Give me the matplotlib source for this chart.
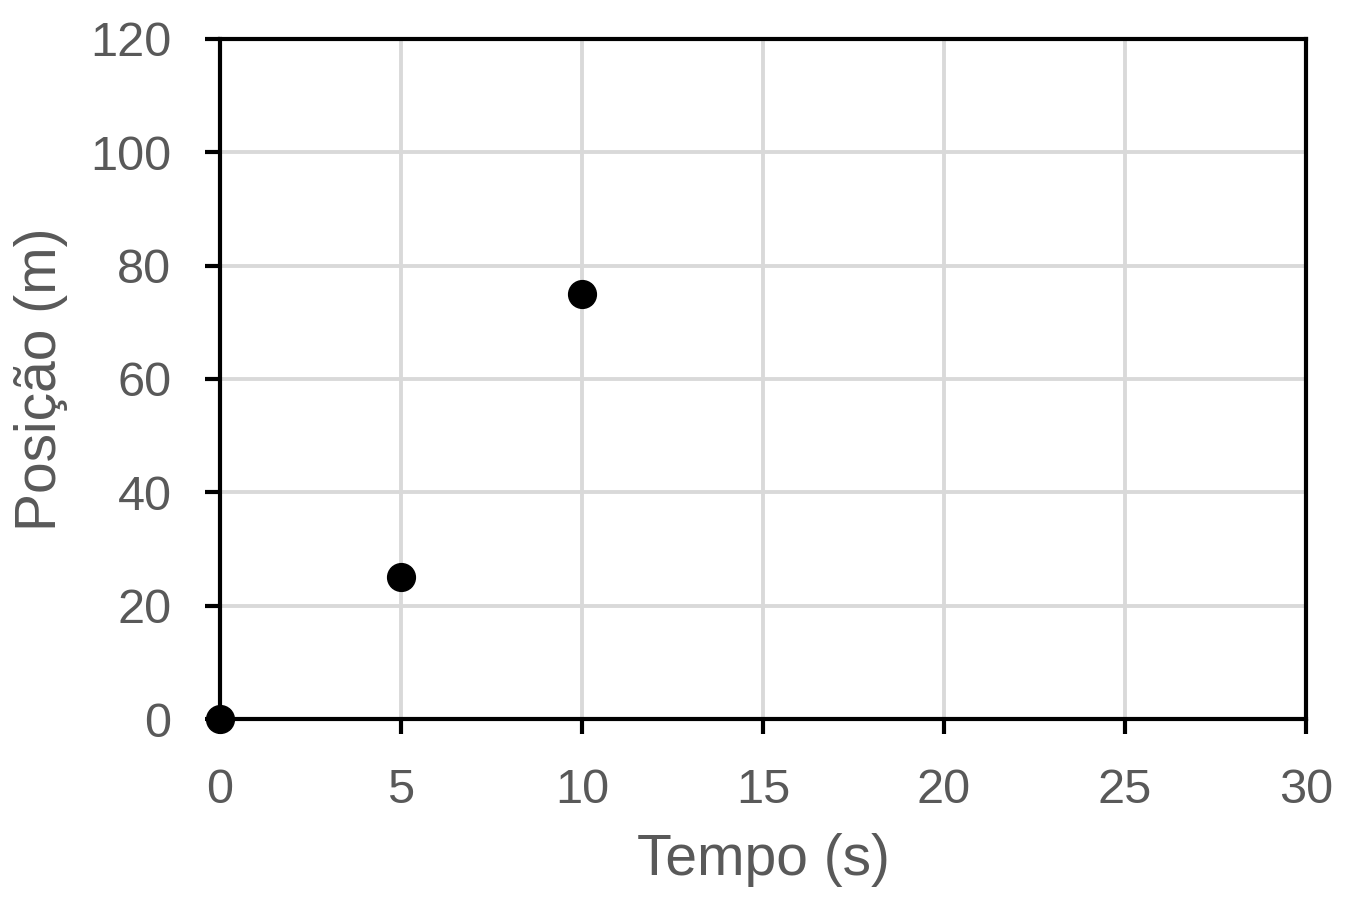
import matplotlib
matplotlib.use("Agg")
import matplotlib.pyplot as plt
from matplotlib import font_manager

tempo = [0, 5, 10]
posicao = [0, 25, 75]
x_ticks = [0, 5, 10, 15, 20, 25, 30]
y_ticks = [0, 20, 40, 60, 80, 100, 120]

names = {f.name for f in font_manager.fontManager.ttflist}
fam = "Liberation Sans Narrow" if "Liberation Sans Narrow" in names else "Liberation Sans"
plt.rcParams['font.family'] = [fam, 'DejaVu Sans']

fig = plt.figure(figsize=(13.54, 9), dpi=100)
ax = fig.add_axes([0.1625, 0.2011, 0.8020, 0.7556])
ax.set_xlim(0, 30)
ax.set_ylim(0, 120)
ax.set_xticks(x_ticks)
ax.set_yticks(y_ticks)
ax.grid(True, color='#d9d9d9', linewidth=2.8)
ax.set_axisbelow(True)
for s in ax.spines.values():
    s.set_linewidth(3.0)
    s.set_color('black')
ax.tick_params(axis='both', direction='out', length=11, width=3.0, color='black',
               labelsize=35, labelcolor='#595959')
ax.tick_params(axis='x', pad=24)
ax.tick_params(axis='y', pad=24)
ax.plot(tempo, posicao, 'o', color='black', markersize=20, clip_on=False, zorder=5)
ax.set_xlabel('Tempo (s)', fontsize=41, color='#595959', labelpad=15)
ax.set_ylabel('Posição (m)', fontsize=41, color='#595959', labelpad=16)
fig.savefig('out.png', dpi=100)
